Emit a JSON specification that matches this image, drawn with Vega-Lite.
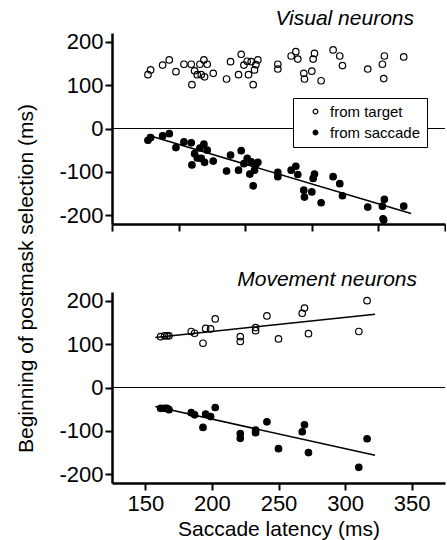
{
  "$schema": "https://vega.github.io/schema/vega-lite/v6.json",
  "padding": {"left": 15, "top": 7, "right": 0, "bottom": 1},
  "bounds": "flush",
  "spacing": 68,
  "config": {
    "view": {"stroke": null},
    "font": "Liberation Sans",
    "axis": {"domainColor": "black", "domainWidth": 2.5, "tickColor": "black", "tickWidth": 2, "tickSize": 7, "labelFontSize": 22, "labelColor": "black", "labelFont": "Liberation Sans", "titleFont": "Liberation Sans", "titleFontSize": 21, "titleFontWeight": "normal", "titleColor": "black", "grid": false, "labelPadding": 2},
    "title": {"font": "Liberation Sans", "fontStyle": "italic", "fontWeight": "normal", "fontSize": 21, "color": "black", "anchor": "end", "baseline": "alphabetic", "frame": "group"}
  },
  "resolve": {"scale": {"fill": "independent"}, "legend": {"fill": "independent"}},
  "datasets": {
    "pts": [
      {"panel": "Visual", "src": "from target", "lat": 152, "sel": 124},
      {"panel": "Visual", "src": "from target", "lat": 154, "sel": 135},
      {"panel": "Visual", "src": "from target", "lat": 163, "sel": 146},
      {"panel": "Visual", "src": "from target", "lat": 168, "sel": 158},
      {"panel": "Visual", "src": "from target", "lat": 173, "sel": 131},
      {"panel": "Visual", "src": "from target", "lat": 179, "sel": 148},
      {"panel": "Visual", "src": "from target", "lat": 184.5, "sel": 148},
      {"panel": "Visual", "src": "from target", "lat": 185, "sel": 101},
      {"panel": "Visual", "src": "from target", "lat": 187, "sel": 133},
      {"panel": "Visual", "src": "from target", "lat": 189, "sel": 124},
      {"panel": "Visual", "src": "from target", "lat": 191, "sel": 148},
      {"panel": "Visual", "src": "from target", "lat": 192, "sel": 124},
      {"panel": "Visual", "src": "from target", "lat": 194, "sel": 158},
      {"panel": "Visual", "src": "from target", "lat": 194.5, "sel": 119},
      {"panel": "Visual", "src": "from target", "lat": 196.5, "sel": 148},
      {"panel": "Visual", "src": "from target", "lat": 201, "sel": 127},
      {"panel": "Visual", "src": "from target", "lat": 211, "sel": 114},
      {"panel": "Visual", "src": "from target", "lat": 214, "sel": 154},
      {"panel": "Visual", "src": "from target", "lat": 220, "sel": 124},
      {"panel": "Visual", "src": "from target", "lat": 222, "sel": 171},
      {"panel": "Visual", "src": "from target", "lat": 224, "sel": 146},
      {"panel": "Visual", "src": "from target", "lat": 226.5, "sel": 155},
      {"panel": "Visual", "src": "from target", "lat": 227.5, "sel": 124},
      {"panel": "Visual", "src": "from target", "lat": 229.5, "sel": 154},
      {"panel": "Visual", "src": "from target", "lat": 231, "sel": 101},
      {"panel": "Visual", "src": "from target", "lat": 232, "sel": 135},
      {"panel": "Visual", "src": "from target", "lat": 233, "sel": 147},
      {"panel": "Visual", "src": "from target", "lat": 234.5, "sel": 158},
      {"panel": "Visual", "src": "from target", "lat": 249.5, "sel": 148},
      {"panel": "Visual", "src": "from target", "lat": 249.5, "sel": 137},
      {"panel": "Visual", "src": "from target", "lat": 259.5, "sel": 167},
      {"panel": "Visual", "src": "from target", "lat": 263, "sel": 177},
      {"panel": "Visual", "src": "from target", "lat": 264.5, "sel": 160},
      {"panel": "Visual", "src": "from target", "lat": 269, "sel": 127},
      {"panel": "Visual", "src": "from target", "lat": 269.5, "sel": 114},
      {"panel": "Visual", "src": "from target", "lat": 275, "sel": 132},
      {"panel": "Visual", "src": "from target", "lat": 276, "sel": 160},
      {"panel": "Visual", "src": "from target", "lat": 277, "sel": 173},
      {"panel": "Visual", "src": "from target", "lat": 282, "sel": 110},
      {"panel": "Visual", "src": "from target", "lat": 291, "sel": 181},
      {"panel": "Visual", "src": "from target", "lat": 296, "sel": 167},
      {"panel": "Visual", "src": "from target", "lat": 298, "sel": 145},
      {"panel": "Visual", "src": "from target", "lat": 317, "sel": 137},
      {"panel": "Visual", "src": "from target", "lat": 328, "sel": 148},
      {"panel": "Visual", "src": "from target", "lat": 329.5, "sel": 167},
      {"panel": "Visual", "src": "from target", "lat": 329, "sel": 115},
      {"panel": "Visual", "src": "from target", "lat": 344, "sel": 165},
      {"panel": "Visual", "src": "from saccade", "lat": 152, "sel": -27},
      {"panel": "Visual", "src": "from saccade", "lat": 154, "sel": -21},
      {"panel": "Visual", "src": "from saccade", "lat": 163, "sel": -17},
      {"panel": "Visual", "src": "from saccade", "lat": 168, "sel": -12},
      {"panel": "Visual", "src": "from saccade", "lat": 173, "sel": -44},
      {"panel": "Visual", "src": "from saccade", "lat": 179, "sel": -31},
      {"panel": "Visual", "src": "from saccade", "lat": 184.5, "sel": -33},
      {"panel": "Visual", "src": "from saccade", "lat": 185, "sel": -84},
      {"panel": "Visual", "src": "from saccade", "lat": 187, "sel": -58},
      {"panel": "Visual", "src": "from saccade", "lat": 189, "sel": -68},
      {"panel": "Visual", "src": "from saccade", "lat": 191, "sel": -45},
      {"panel": "Visual", "src": "from saccade", "lat": 192, "sel": -69},
      {"panel": "Visual", "src": "from saccade", "lat": 194, "sel": -36},
      {"panel": "Visual", "src": "from saccade", "lat": 194.5, "sel": -78},
      {"panel": "Visual", "src": "from saccade", "lat": 196.5, "sel": -50},
      {"panel": "Visual", "src": "from saccade", "lat": 201, "sel": -75},
      {"panel": "Visual", "src": "from saccade", "lat": 211, "sel": -98},
      {"panel": "Visual", "src": "from saccade", "lat": 214, "sel": -61},
      {"panel": "Visual", "src": "from saccade", "lat": 220, "sel": -96},
      {"panel": "Visual", "src": "from saccade", "lat": 222, "sel": -51},
      {"panel": "Visual", "src": "from saccade", "lat": 224, "sel": -81},
      {"panel": "Visual", "src": "from saccade", "lat": 226.5, "sel": -69},
      {"panel": "Visual", "src": "from saccade", "lat": 228.5, "sel": -105},
      {"panel": "Visual", "src": "from saccade", "lat": 229.5, "sel": -77},
      {"panel": "Visual", "src": "from saccade", "lat": 231, "sel": -132},
      {"panel": "Visual", "src": "from saccade", "lat": 232, "sel": -96},
      {"panel": "Visual", "src": "from saccade", "lat": 233, "sel": -83},
      {"panel": "Visual", "src": "from saccade", "lat": 234.5, "sel": -78},
      {"panel": "Visual", "src": "from saccade", "lat": 249.5, "sel": -101},
      {"panel": "Visual", "src": "from saccade", "lat": 249.5, "sel": -111},
      {"panel": "Visual", "src": "from saccade", "lat": 259.5, "sel": -96},
      {"panel": "Visual", "src": "from saccade", "lat": 263, "sel": -87},
      {"panel": "Visual", "src": "from saccade", "lat": 264.5, "sel": -106},
      {"panel": "Visual", "src": "from saccade", "lat": 269, "sel": -142},
      {"panel": "Visual", "src": "from saccade", "lat": 269.5, "sel": -158},
      {"panel": "Visual", "src": "from saccade", "lat": 275, "sel": -146},
      {"panel": "Visual", "src": "from saccade", "lat": 276, "sel": -115},
      {"panel": "Visual", "src": "from saccade", "lat": 277, "sel": -105},
      {"panel": "Visual", "src": "from saccade", "lat": 282, "sel": -171},
      {"panel": "Visual", "src": "from saccade", "lat": 291, "sel": -111},
      {"panel": "Visual", "src": "from saccade", "lat": 296, "sel": -127},
      {"panel": "Visual", "src": "from saccade", "lat": 298, "sel": -155},
      {"panel": "Visual", "src": "from saccade", "lat": 317, "sel": -181},
      {"panel": "Visual", "src": "from saccade", "lat": 328, "sel": -179},
      {"panel": "Visual", "src": "from saccade", "lat": 329.5, "sel": -163},
      {"panel": "Visual", "src": "from saccade", "lat": 329, "sel": -211},
      {"panel": "Visual", "src": "from saccade", "lat": 328.5, "sel": -208},
      {"panel": "Visual", "src": "from saccade", "lat": 344, "sel": -179},
      {"panel": "Movement", "src": "from target", "lat": 161.5, "sel": 117},
      {"panel": "Movement", "src": "from target", "lat": 164.5, "sel": 119},
      {"panel": "Movement", "src": "from target", "lat": 166.3, "sel": 119},
      {"panel": "Movement", "src": "from target", "lat": 167.8, "sel": 119},
      {"panel": "Movement", "src": "from target", "lat": 184.5, "sel": 129},
      {"panel": "Movement", "src": "from target", "lat": 187, "sel": 125},
      {"panel": "Movement", "src": "from target", "lat": 193.3, "sel": 102},
      {"panel": "Movement", "src": "from target", "lat": 195.3, "sel": 136},
      {"panel": "Movement", "src": "from target", "lat": 199, "sel": 135},
      {"panel": "Movement", "src": "from target", "lat": 202.5, "sel": 158},
      {"panel": "Movement", "src": "from target", "lat": 221.3, "sel": 117},
      {"panel": "Movement", "src": "from target", "lat": 221.3, "sel": 106},
      {"panel": "Movement", "src": "from target", "lat": 232.8, "sel": 138},
      {"panel": "Movement", "src": "from target", "lat": 232.8, "sel": 131},
      {"panel": "Movement", "src": "from target", "lat": 241.3, "sel": 165},
      {"panel": "Movement", "src": "from target", "lat": 250, "sel": 112},
      {"panel": "Movement", "src": "from target", "lat": 267.8, "sel": 171},
      {"panel": "Movement", "src": "from target", "lat": 269.5, "sel": 183},
      {"panel": "Movement", "src": "from target", "lat": 272.5, "sel": 124},
      {"panel": "Movement", "src": "from target", "lat": 310.3, "sel": 129},
      {"panel": "Movement", "src": "from target", "lat": 316.5, "sel": 200},
      {"panel": "Movement", "src": "from saccade", "lat": 161.5, "sel": -48},
      {"panel": "Movement", "src": "from saccade", "lat": 164.5, "sel": -48},
      {"panel": "Movement", "src": "from saccade", "lat": 166.3, "sel": -48},
      {"panel": "Movement", "src": "from saccade", "lat": 167.8, "sel": -51},
      {"panel": "Movement", "src": "from saccade", "lat": 184.5, "sel": -58},
      {"panel": "Movement", "src": "from saccade", "lat": 187, "sel": -63},
      {"panel": "Movement", "src": "from saccade", "lat": 193.3, "sel": -92},
      {"panel": "Movement", "src": "from saccade", "lat": 195.3, "sel": -61},
      {"panel": "Movement", "src": "from saccade", "lat": 199, "sel": -67},
      {"panel": "Movement", "src": "from saccade", "lat": 202.5, "sel": -46},
      {"panel": "Movement", "src": "from saccade", "lat": 221.3, "sel": -106},
      {"panel": "Movement", "src": "from saccade", "lat": 221.3, "sel": -117},
      {"panel": "Movement", "src": "from saccade", "lat": 232.8, "sel": -98},
      {"panel": "Movement", "src": "from saccade", "lat": 232.8, "sel": -104},
      {"panel": "Movement", "src": "from saccade", "lat": 241.3, "sel": -79},
      {"panel": "Movement", "src": "from saccade", "lat": 250, "sel": -141},
      {"panel": "Movement", "src": "from saccade", "lat": 267.8, "sel": -102},
      {"panel": "Movement", "src": "from saccade", "lat": 269.5, "sel": -86},
      {"panel": "Movement", "src": "from saccade", "lat": 272.5, "sel": -150},
      {"panel": "Movement", "src": "from saccade", "lat": 310.3, "sel": -184},
      {"panel": "Movement", "src": "from saccade", "lat": 316.5, "sel": -118}
    ],
    "fits": [
      {"panel": "Visual", "src": "from saccade", "lat": 151.5, "sel": -15},
      {"panel": "Visual", "src": "from saccade", "lat": 349.5, "sel": -196},
      {"panel": "Movement", "src": "from target", "lat": 157.5, "sel": 115},
      {"panel": "Movement", "src": "from target", "lat": 322.5, "sel": 169},
      {"panel": "Movement", "src": "from saccade", "lat": 157.5, "sel": -44},
      {"panel": "Movement", "src": "from saccade", "lat": 322.5, "sel": -156}
    ]
  },
  "vconcat": [
    {
      "title": {"text": "Visual neurons", "dx": -31, "offset": 2},
      "width": 333,
      "height": 191,
      "layer": [
        {
          "data": {"values": [{}]},
          "mark": {"type": "rule", "color": "black", "strokeWidth": 1.2},
          "encoding": {"y": {"datum": 0, "type": "quantitative", "scale": {"domain": [-220, 220], "nice": false, "zero": false}}}
        },
        {
          "data": {"name": "fits"},
          "transform": [{"filter": "datum.panel === 'Visual'"}],
          "mark": {"type": "line", "color": "black", "strokeWidth": 1.5},
          "encoding": {
            "x": {"field": "lat", "type": "quantitative"},
            "y": {"field": "sel", "type": "quantitative"},
            "detail": {"field": "src"}
          }
        },
        {
          "data": {"name": "pts"},
          "transform": [{"filter": "datum.panel === 'Visual'"}],
          "mark": {"type": "point", "shape": "circle", "filled": true, "stroke": "black", "strokeWidth": 1.2, "size": 42, "opacity": 1},
          "encoding": {
            "x": {"field": "lat", "type": "quantitative", "scale": {"domain": [125, 375], "nice": false, "zero": false},
                  "axis": {"values": [125, 150, 175, 200, 225, 250, 275, 300, 325, 350, 375], "labels": false, "title": null}},
            "y": {"field": "sel", "type": "quantitative", "scale": {"domain": [-220, 220], "nice": false, "zero": false},
                  "axis": {"values": [-200, -150, -100, -50, 0, 50, 100, 150, 200], "labelExpr": "datum.value % 100 === 0 ? '' + datum.value : ''", "title": "Beginning of postmask selection (ms)", "titleY": 245, "titlePadding": 22, "labelOverlap": false}},
            "fill": {"field": "src", "type": "nominal", "scale": {"domain": ["from target", "from saccade"], "range": ["transparent", "black"]},
                     "legend": {"orient": "none", "legendX": 181, "legendY": 65, "title": null, "strokeColor": "black", "fillColor": "white", "padding": 6, "labelFontSize": 15, "labelColor": "black", "labelFont": "Liberation Sans", "symbolSize": 22, "symbolType": "circle", "symbolStrokeColor": "black", "symbolStrokeWidth": 1.2, "symbolOffset": 9, "labelOffset": 7, "rowPadding": 5}}
          }
        }
      ]
    },
    {
      "title": {"text": "Movement neurons", "dx": -28, "offset": 0},
      "width": 333,
      "height": 191,
      "layer": [
        {
          "data": {"values": [{}]},
          "mark": {"type": "rule", "color": "black", "strokeWidth": 1.2},
          "encoding": {"y": {"datum": 0, "type": "quantitative", "scale": {"domain": [-220, 220], "nice": false, "zero": false}}}
        },
        {
          "data": {"name": "fits"},
          "transform": [{"filter": "datum.panel === 'Movement'"}],
          "mark": {"type": "line", "color": "black", "strokeWidth": 1.5},
          "encoding": {
            "x": {"field": "lat", "type": "quantitative"},
            "y": {"field": "sel", "type": "quantitative"},
            "detail": {"field": "src"}
          }
        },
        {
          "data": {"name": "pts"},
          "transform": [{"filter": "datum.panel === 'Movement'"}],
          "mark": {"type": "point", "shape": "circle", "filled": true, "stroke": "black", "strokeWidth": 1.2, "size": 42, "opacity": 1},
          "encoding": {
            "x": {"field": "lat", "type": "quantitative", "scale": {"domain": [125, 375], "nice": false, "zero": false},
                  "axis": {"values": [150, 200, 250, 300, 350], "labelFlush": false, "labelPadding": 3, "titlePadding": 4, "title": "Saccade latency (ms)"}},
            "y": {"field": "sel", "type": "quantitative", "scale": {"domain": [-220, 220], "nice": false, "zero": false},
                  "axis": {"values": [-200, -150, -100, -50, 0, 50, 100, 150, 200], "labelExpr": "datum.value % 100 === 0 ? '' + datum.value : ''", "labelOverlap": false, "title": null}},
            "fill": {"field": "src", "type": "nominal", "scale": {"domain": ["from target", "from saccade"], "range": ["transparent", "black"]}, "legend": null}
          }
        }
      ]
    }
  ]
}
